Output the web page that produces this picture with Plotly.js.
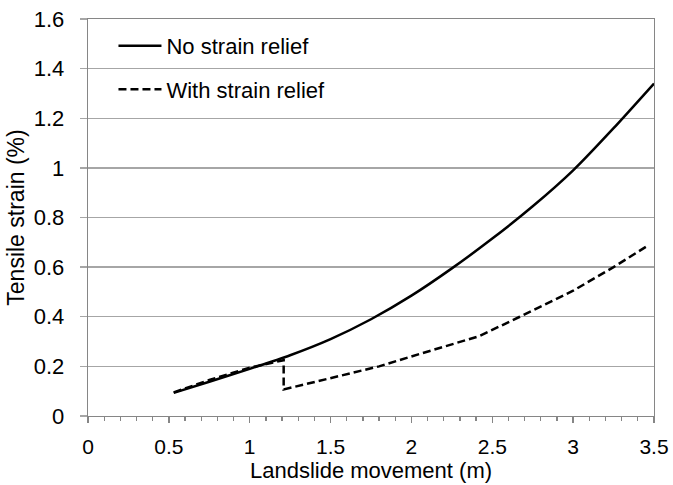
<!DOCTYPE html>
<html>
<head>
<meta charset="utf-8">
<script src="https://cdn.plot.ly/plotly-3.0.1.min.js"></script>
<style>html,body{margin:0;padding:0;background:#fff;}#chart{width:673px;height:485px;}</style>
</head>
<body>
<div id="chart"></div>
<script>
// Data
const seriesNames = ["No strain relief", "With strain relief"];
const noReliefX = [0.53, 0.75, 1.0, 1.25, 1.5, 1.75, 2.0, 2.25, 2.5, 2.75, 3.0, 3.25, 3.5];
const noReliefY = [0.093, 0.138, 0.19, 0.245, 0.31, 0.39, 0.485, 0.595, 0.715, 0.845, 0.99, 1.16, 1.34];
const reliefX = [0.53, 0.75, 1.0, 1.21, 1.21, 1.5, 1.8, 2.0, 2.25, 2.42, 2.67, 3.0, 3.25, 3.47];
const reliefY = [0.095, 0.145, 0.195, 0.225, 0.107, 0.153, 0.2, 0.24, 0.29, 0.322, 0.40, 0.505, 0.60, 0.69];
const xTitle = "Landslide movement (m)";
const yTitle = "Tensile strain (%)";

const FONT = "Arial, 'Liberation Sans', sans-serif";
const traces = [
  {x: noReliefX, y: noReliefY, name: seriesNames[0], mode: "lines", legendgroup: "a",
   line: {color: "#000", width: 2.5, shape: "spline", smoothing: 0.6}},
  {x: reliefX, y: reliefY, name: seriesNames[1], mode: "lines", legendgroup: "b",
   line: {color: "#000", width: 2.5, dash: "8px,4px"}}
];
const layout = {
  width: 673, height: 485,
  margin: {l: 88, r: 19, t: 19, b: 69},
  paper_bgcolor: "#fff", plot_bgcolor: "#fff",
  font: {family: FONT, size: 22, color: "#000"},
  showlegend: true,
  legend: {x: 0.045, y: 0.985, xanchor: "left", yanchor: "top", bgcolor: "rgba(0,0,0,0)",
           traceorder: "grouped", tracegroupgap: 12, itemwidth: 43, font: {size: 22, family: FONT}},
  xaxis: {
    range: [0, 3.5], dtick: 0.5, tick0: 0, showgrid: false, zeroline: false,
    showline: true, linecolor: "#868686", linewidth: 1.3, mirror: true,
    ticks: "outside", ticklen: 6, tickcolor: "#868686", tickwidth: 1.3,
    minor: {dtick: 0.1, ticks: "outside", ticklen: 4, tickcolor: "#868686", tickwidth: 1.3, showgrid: false},
    ticklabelstandoff: 5,
    tickfont: {size: 21}, title: {text: xTitle, font: {size: 22}, standoff: 5}
  },
  yaxis: {
    range: [0, 1.6], dtick: 0.2, tick0: 0, showgrid: true, gridcolor: "#a6a6a6", gridwidth: 1.3,
    zeroline: false, showline: true, linecolor: "#868686", linewidth: 1.3, mirror: true,
    ticks: "outside", ticklen: 7, tickcolor: "#a6a6a6", tickwidth: 1.3,
    ticklabelstandoff: 11,
    tickfont: {size: 22}, title: {text: yTitle, font: {size: 23}, standoff: 2}
  }
};
Plotly.newPlot("chart", traces, layout, {displayModeBar: false, staticPlot: true});
</script>
</body>
</html>
